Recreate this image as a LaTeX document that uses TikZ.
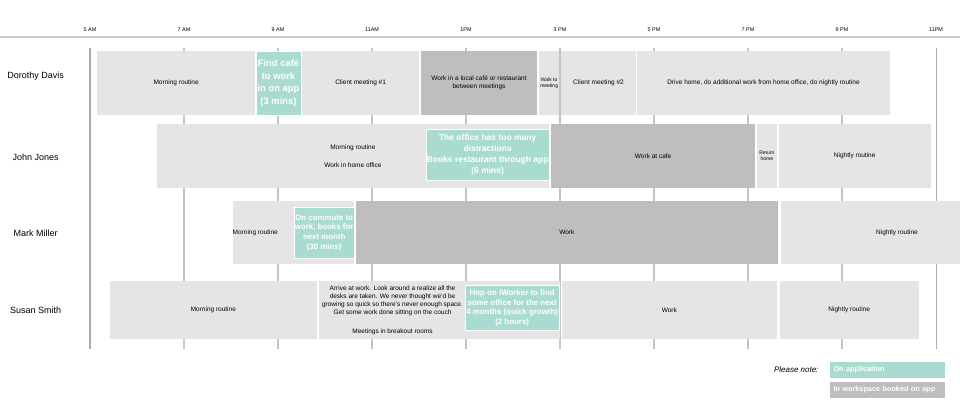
\documentclass[tikz,border=0pt]{standalone}
\usepackage{fontspec}
\setmainfont{Liberation Sans}
\definecolor{idlegray}{HTML}{E5E5E5}
\definecolor{bookedgray}{HTML}{BEBEBE}
\definecolor{appgreen}{HTML}{A9DBD1}
\definecolor{gridgray}{HTML}{C4C4C4}
\begin{document}
\begin{tikzpicture}[x=1pt,y=-1pt,
	slot/.style={anchor=north west,inner sep=0pt,outer sep=0pt,align=center,font=\fontsize{6.5}{7.7}\selectfont},
	idle/.style={slot,fill=idlegray},
	booked/.style={slot,fill=bookedgray},
	app/.style={slot,fill=appgreen,draw=white,line width=.8pt,text=white},
	tiny/.style={font=\fontsize{5}{6}\selectfont},
	person/.style={font=\fontsize{9}{11}\selectfont},
	legend/.style={slot,text=white,align=left,text width=108pt,inner xsep=3.5pt,minimum height=15.7pt,font=\fontsize{7.3}{9}\selectfont\bfseries}]
		\useasboundingbox (0,0) rectangle (960,401);
		\clip (0,0) rectangle (960,401);
		\draw [gridgray!90,line width=1.5pt] (0,37) -- (960,37);
		\foreach \h/\lab in {0/5 AM,1/7 AM,2/9 AM,3/11AM,4/1PM,5/3 PM,6/5 PM,7/7 PM,8/9 PM,9/11PM}
			\node [font=\fontsize{5.4}{6}\selectfont] (hour\h) at (90+94*\h,30) {\lab};
		\foreach \h in {1,...,8}
			\draw [gridgray,line width=1.1pt] (90+94*\h,48) -- (90+94*\h,349);
		\draw [gray!65,line width=1.2pt] (90,48) -- (90,349) (936.3,48) -- (936.3,349);

		\path
		(35.7,76)    node[person] (nDorothy) {Dorothy Davis}
		(35.7,157.7) node[person] (nJohn)    {John Jones}
		(35.7,233.3) node[person] (nMark)    {Mark Miller}
		(35.7,310.7) node[person] (nSusan)   {Susan Smith};

		\node [idle,minimum width=157.7pt,minimum height=64pt] (dMorning) at (97.3,51) {Morning routine};
		\node [app,minimum width=45pt,minimum height=64pt,font=\fontsize{9.4}{12.8}\selectfont\bfseries] (dFind) at (256,51) {Find café\\to work\\in on app\\(3 mins)};
		\node [idle,minimum width=117.3pt,minimum height=64pt] (dMeet1) at (302,51) {Client meeting \#1};
		\node [booked,minimum width=116.6pt,minimum height=64pt] (dCafe) at (420.7,51) {Work in a local café or restaurant\\between meetings};
		\node [idle,tiny,minimum width=20.3pt,minimum height=64pt] (dWalk) at (539,51) {Walk to\\meeting};
		\node [idle,minimum width=75pt,minimum height=64pt] (dMeet2) at (561,51) {Client meeting \#2};
		\node [idle,minimum width=252.4pt,minimum height=64pt] (dDrive) at (637.3,51) {Drive home, do additional work from home office, do nightly routine};

		\node [idle,minimum width=392.3pt,minimum height=63.4pt,font=\fontsize{6.5}{8}\selectfont] (jHome) at (156.7,124.3) {Morning routine\\[10.3pt]Work in home office};
		\node [app,minimum width=123.3pt,minimum height=51pt,font=\fontsize{8.5}{11}\selectfont\bfseries] (jOffice) at (426,129.3) {The office has too many\\distractions\\Books restaurant through app\\(6 mins)};
		\node [booked,minimum width=204.3pt,minimum height=63.4pt] (jCafe) at (551,124.3) {Work at cafe};
		\node [idle,tiny,minimum width=19.7pt,minimum height=63.4pt] (jReturn) at (757,124.3) {Return\\home};
		\node [idle,minimum width=152pt,minimum height=63.4pt] (jNight) at (778.7,124.3) {Nightly routine};

		\node [idle,minimum width=121.3pt,minimum height=63pt] (mMorning) at (232.7,201) {};
		\node [slot,anchor=west] (mMorningTxt) at (mMorning.west) {Morning routine};
		\node [app,minimum width=59.7pt,minimum height=51pt,font=\fontsize{7.85}{9.7}\selectfont\bfseries] (mCommute) at (294.3,207.3) {On commute to\\work, books for\\next month\\(30 mins)};
		\node [booked,minimum width=421.7pt,minimum height=63pt] (mWork) at (356,201) {Work};
		\node [idle,minimum width=232pt,minimum height=63pt] (mNight) at (781,201) {Nightly routine};

		\node [idle,minimum width=207.1pt,minimum height=58pt] (sMorning) at (109.8,281) {Morning routine};
		\node [idle,minimum width=240.7pt,minimum height=58pt] (sArrive) at (319.3,281) {};
		\node [slot,anchor=center,font=\fontsize{6.5}{8.1}\selectfont] (sArriveTxt) at (392.5,310.3) {Arrive at work. Look around a realize all the\\desks are  taken. We never thought we'd be\\growing  so quick so there's never enough space.\\Get some work done sitting on the couch\\[10.9pt]Meetings in breakout rooms};
		\node [app,minimum width=94.3pt,minimum height=44.6pt,font=\fontsize{7.9}{9.7}\selectfont\bfseries] (sHop) at (465,285.7) {Hop on iWorker to find\\some office for the next\\4 months (quick growth)\\(2 hours)};
		\node [idle,minimum width=215.3pt,minimum height=58pt] (sWork) at (561.7,281) {Work};
		\node [idle,minimum width=139pt,minimum height=58pt] (sNight) at (779.7,281) {Nightly routine};

		\node [anchor=east,font=\fontsize{8}{10}\selectfont\itshape] (note) at (822,370) {Please note:};
		\node [legend,fill=appgreen] (lgApp) at (830,362) {On application};
		\node [legend,fill=bookedgray] (lgBooked) at (830,382) {In workspace booked on app};
\end{tikzpicture}
\end{document}
